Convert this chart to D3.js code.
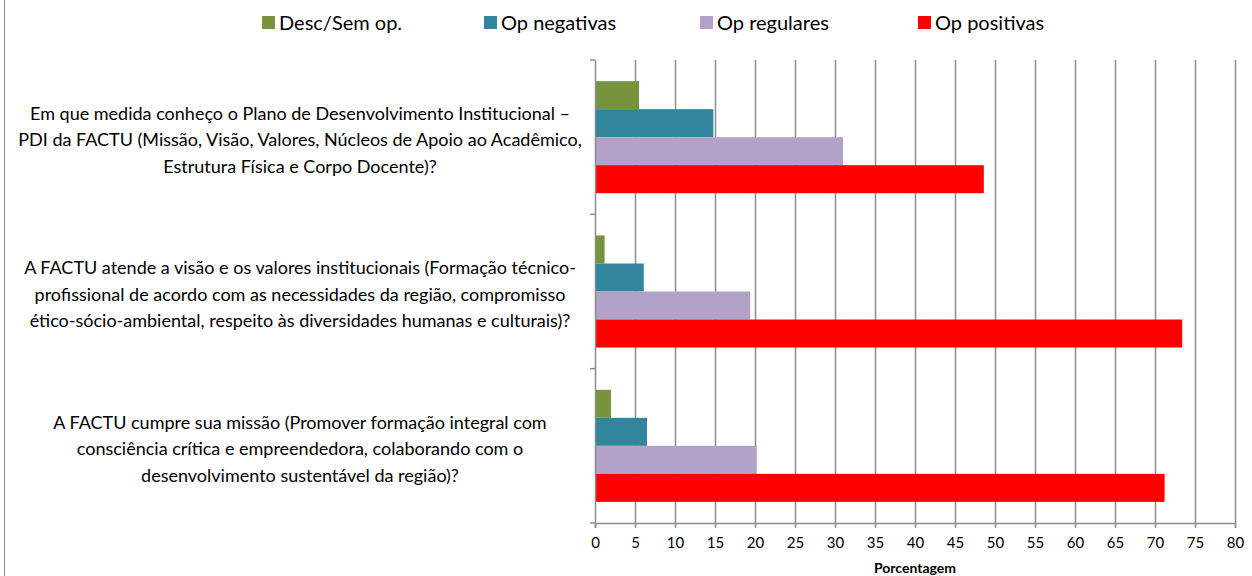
<!DOCTYPE html>
<html>
<head>
<meta charset="utf-8">
<script src="https://cdn.jsdelivr.net/npm/d3@7"></script>
<style>
  body { margin: 0; background: #fff; }
  text { font-family: Lato, "Open Sans", sans-serif; fill: #000; }
</style>
</head>
<body>
<svg id="chart" width="1252" height="576"></svg>
<script>
// data
var categories = ["PDI", "Visão e valores", "Missão"];
var categoryLines = [
	["Em que medida conheço o Plano de Desenvolvimento Institucional –",
	 "PDI da FACTU (Missão, Visão, Valores, Núcleos de Apoio ao Acadêmico,",
	 "Estrutura Física e Corpo Docente)?"],
	["A FACTU atende a visão e os valores institucionais (Formação técnico-",
	 "profissional de acordo com as necessidades da região, compromisso",
	 "ético-sócio-ambiental, respeito às diversidades humanas e culturais)?"],
	["A FACTU cumpre sua missão (Promover formação integral com",
	 "consciência crítica e empreendedora, colaborando com o",
	 "desenvolvimento sustentável da região)?"]
];
var seriesNames = ["Desc/Sem op.", "Op negativas", "Op regulares", "Op positivas"];
var seriesColors = ["#77933C", "#31859C", "#B3A2C7", "#FF0000"];
var descSemOp = [5.5, 1.2, 2.0];
var opNegativas = [14.8, 6.1, 6.5];
var opRegulares = [31.0, 19.4, 20.2];
var opPositivas = [48.6, 73.4, 71.2];
var xTicks = d3.range(0, 81, 5);

var seriesValues = [descSemOp, opNegativas, opRegulares, opPositivas];

// dimensions
var margin = {left: 595, top: 60},
	plotWidth = 640,
	plotHeight = 463,
	gridColor = "#8C8C8C";

var svg = d3.select("#chart");

// outer frame line on the left
svg.append("line")
	.attr("x1", 4.5).attr("x2", 4.5)
	.attr("y1", 0).attr("y2", 576)
	.style("stroke", "#8C8C8C")
	.style("stroke-width", 1);

var g = svg.append("g")
	.attr("transform", translate(margin.left, margin.top));

var x = d3.scaleLinear().domain([0, 80]).range([0, plotWidth]);

var y = d3.scaleBand()
	.domain(categories)
	.range([0, plotHeight])
	.paddingInner(0.274)
	.paddingOuter(0.137);

var ySub = d3.scaleBand()
	.domain(seriesNames)
	.range([0, y.bandwidth()]);

// gridlines
g.selectAll("line.grid")
	.data(xTicks.slice(1))
	.enter()
	.append("line")
	.attr("class", "grid")
	.attr("x1", function (d) { return Math.round(x(d)) + 0.5; })
	.attr("x2", function (d) { return Math.round(x(d)) + 0.5; })
	.attr("y1", 0)
	.attr("y2", plotHeight)
	.style("stroke", gridColor)
	.style("stroke-width", 1.5);

// bars
var groups = g.selectAll("g.cat")
	.data(categories)
	.enter()
	.append("g")
	.attr("class", "cat")
	.attr("transform", function (d) { return translate(0, y(d)); });

groups.selectAll("rect")
	.data(function (d, i) {
		return seriesNames.map(function (s, j) {
			return {series: s, value: seriesValues[j][i], color: seriesColors[j]};
		});
	})
	.enter()
	.append("rect")
	.attr("x", x(0) + 1)
	.attr("y", function (d) { return ySub(d.series); })
	.attr("width", function (d) { return x(d.value) - x(0) - 1; })
	.attr("height", ySub.bandwidth())
	.style("fill", function (d) { return d.color; });

// x axis
var xAxis = g.append("g")
	.attr("transform", translate(0, plotHeight))
	.call(d3.axisBottom(x).tickValues(xTicks).tickSize(5).tickPadding(9));

xAxis.select(".domain").style("stroke", gridColor).style("stroke-width", 1.5);
xAxis.selectAll(".tick line").style("stroke", gridColor).style("stroke-width", 1.5);
xAxis.selectAll(".tick text")
	.style("font-family", "Lato, sans-serif")
	.style("font-size", "15px")
	.attr("fill", "#000");

// y axis line with ticks at band boundaries
g.append("line")
	.attr("x1", 0.5).attr("x2", 0.5)
	.attr("y1", 0).attr("y2", plotHeight)
	.style("stroke", gridColor)
	.style("stroke-width", 1.5);

var boundaries = [0].concat(categories.map(function (d) { return y(d) + y.bandwidth() + y.step() * y.paddingInner() / 2; }));
boundaries[boundaries.length - 1] = plotHeight;
g.selectAll("line.ytick")
	.data(boundaries)
	.enter()
	.append("line")
	.attr("class", "ytick")
	.attr("x1", -5).attr("x2", 0)
	.attr("y1", function (d) { return d; })
	.attr("y2", function (d) { return d; })
	.style("stroke", gridColor)
	.style("stroke-width", 1.5);

// category labels
var lineHeight = 26.5;
var labels = g.selectAll("text.cat")
	.data(categories)
	.enter()
	.append("text")
	.attr("class", "cat")
	.attr("text-anchor", "middle")
	.style("font-size", "18px")
	.attr("transform", function (d) {
		return translate(300 - margin.left, y(d) + y.bandwidth() / 2 + 3);
	});

labels.selectAll("tspan")
	.data(function (d, i) { return categoryLines[i]; })
	.enter()
	.append("tspan")
	.attr("x", 0)
	.attr("y", function (d, i) { return (i - 1) * lineHeight; })
	.attr("dy", "0.35em")
	.text(function (d) { return d; });

// axis title
g.append("text")
	.attr("x", x(40))
	.attr("y", plotHeight + 50)
	.attr("text-anchor", "middle")
	.style("font-size", "14px")
	.style("font-weight", "bold")
	.text("Porcentagem");

// legend
var legendX = [262, 484, 700, 918];
var legend = svg.selectAll("g.legend")
	.data(seriesNames)
	.enter()
	.append("g")
	.attr("class", "legend")
	.attr("transform", function (d, i) { return translate(legendX[i], 16); });

legend.append("rect")
	.attr("width", 13)
	.attr("height", 13)
	.style("fill", function (d, i) { return seriesColors[i]; });

legend.append("text")
	.attr("x", 17)
	.attr("y", 6.5)
	.attr("dy", "0.35em")
	.style("font-size", "20px")
	.text(function (d) { return d; });

function translate(x, y) {
	return "translate(" + x + "," + y + ")";
}
</script>
</body>
</html>
